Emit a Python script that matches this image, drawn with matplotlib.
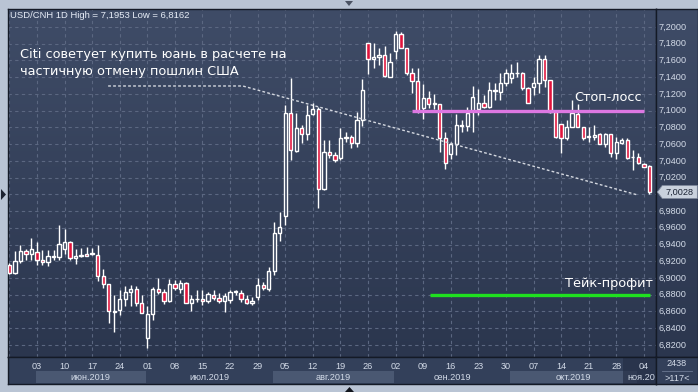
import matplotlib
matplotlib.use('Agg')
import matplotlib.pyplot as plt
import numpy as np
import pandas as pd
from matplotlib.patches import Polygon, Rectangle
from matplotlib.colors import LinearSegmentedColormap

# ---------------- data ----------------
dates = pd.bdate_range('2019-05-27', '2019-11-05')   # 117 daily bars

opens = [6.9155, 6.9056, 6.9200, 6.9328, 6.9292, 6.9316, 6.9220, 6.9192, 6.9250, 6.9248,
         6.9344, 6.9436, 6.9236, 6.9260, 6.9284, 6.9284, 6.9280, 6.9020, 6.8928, 6.8600,
         6.8612, 6.8748, 6.8832, 6.8872, 6.8700, 6.8280, 6.8568, 6.8868, 6.8836, 6.8720,
         6.8925, 6.8873, 6.8937, 6.8698, 6.8750, 6.8745, 6.8730, 6.8797, 6.8757, 6.8730,
         6.8737, 6.8833, 6.8825, 6.8745, 6.8698, 6.8769, 6.8913, 6.8865, 6.9084, 6.9534,
         6.9741, 7.0968, 7.0522, 7.0789, 7.0721, 7.0956, 7.1016, 7.0060, 7.0502, 7.0470,
         7.0430, 7.0670, 7.0680, 7.0618, 7.0888, 7.1805, 7.1613, 7.1637, 7.1660, 7.1406,
         7.1717, 7.1912, 7.1745, 7.1446, 7.1358, 7.1028, 7.1147, 7.1076, 7.1076, 7.0670,
         7.0480, 7.0600, 7.0817, 7.0817, 7.0992, 7.1016, 7.1088, 7.1040, 7.1240, 7.1227,
         7.1335, 7.1386, 7.1446, 7.1446, 7.1267, 7.1279, 7.1327, 7.1613, 7.1366, 7.0988,
         7.0841, 7.0669, 7.0809, 7.0960, 7.0801, 7.0690, 7.0681, 7.0717, 7.0602, 7.0717,
         7.0490, 7.0618, 7.0649, 7.0442, 7.0442, 7.0359, 7.0339]
highs = [6.9180, 6.9320, 6.9400, 6.9350, 6.9484, 6.9436, 6.9340, 6.9330, 6.9330, 6.9628,
         6.9588, 6.9440, 6.9350, 6.9360, 6.9370, 6.9360, 6.9400, 6.9112, 6.8930, 6.8800,
         6.8860, 6.8900, 6.8920, 6.8900, 6.8800, 6.8660, 6.8890, 6.9000, 6.8868, 6.8992,
         6.8976, 6.8976, 6.8956, 6.8797, 6.8857, 6.8857, 6.8837, 6.8857, 6.8817, 6.8817,
         6.8857, 6.8857, 6.8857, 6.8797, 6.8777, 6.8996, 6.8956, 6.9136, 6.9673, 6.9793,
         7.1068, 7.1386, 7.0968, 7.0828, 7.1067, 7.1087, 7.1048, 7.0650, 7.0650, 7.0510,
         7.0790, 7.0750, 7.0710, 7.0988, 7.1374, 7.1805, 7.1805, 7.1745, 7.1770, 7.1685,
         7.1953, 7.1944, 7.1745, 7.1506, 7.1506, 7.1315, 7.1235, 7.1200, 7.1076, 7.0750,
         7.0630, 7.0960, 7.0888, 7.1048, 7.1295, 7.1255, 7.1187, 7.1347, 7.1327, 7.1446,
         7.1494, 7.1558, 7.1586, 7.1466, 7.1287, 7.1406, 7.1665, 7.1665, 7.1366, 7.1008,
         7.0841, 7.0888, 7.1127, 7.1080, 7.0801, 7.0800, 7.0829, 7.0729, 7.0729, 7.0717,
         7.0689, 7.0669, 7.0669, 7.0530, 7.0490, 7.0370, 7.0351]
lows = [6.9050, 6.9044, 6.9180, 6.9210, 6.9220, 6.9152, 6.9150, 6.9140, 6.9210, 6.9220,
        6.9290, 6.9210, 6.9164, 6.9250, 6.9260, 6.9270, 6.8968, 6.8880, 6.8468, 6.8360,
        6.8556, 6.8668, 6.8660, 6.8660, 6.8580, 6.8162, 6.8500, 6.8808, 6.8692, 6.8708,
        6.8857, 6.8817, 6.8698, 6.8610, 6.8717, 6.8678, 6.8698, 6.8737, 6.8705, 6.8598,
        6.8698, 6.8797, 6.8717, 6.8690, 6.8678, 6.8737, 6.8857, 6.8849, 6.9036, 6.9446,
        6.9634, 7.0410, 7.0510, 7.0610, 7.0650, 7.0948, 6.9833, 7.0052, 7.0430, 7.0390,
        7.0410, 7.0630, 7.0550, 7.0560, 7.0817, 7.1440, 7.1506, 7.1540, 7.1400, 7.1400,
        7.1613, 7.1745, 7.1426, 7.1207, 7.0968, 7.0896, 7.1036, 7.1016, 7.0510, 7.0300,
        7.0420, 7.0470, 7.0750, 7.0757, 7.0750, 7.0948, 7.1028, 7.1028, 7.1127, 7.1127,
        7.1300, 7.1335, 7.1406, 7.1247, 7.1096, 7.1187, 7.1207, 7.1287, 7.0976, 7.0669,
        7.0490, 7.0649, 7.0801, 7.0801, 7.0649, 7.0630, 7.0649, 7.0600, 7.0560, 7.0450,
        7.0418, 7.0600, 7.0422, 7.0291, 7.0360, 7.0330, 7.0010]
closes = [6.9060, 6.9208, 6.9328, 6.9292, 6.9348, 6.9216, 6.9196, 6.9264, 6.9260, 6.9408,
          6.9436, 6.9236, 6.9264, 6.9280, 6.9264, 6.9300, 6.9020, 6.8928, 6.8600, 6.8590,
          6.8752, 6.8836, 6.8872, 6.8700, 6.8580, 6.8572, 6.8868, 6.8836, 6.8720, 6.8928,
          6.8880, 6.8937, 6.8698, 6.8750, 6.8746, 6.8730, 6.8805, 6.8765, 6.8730, 6.8785,
          6.8829, 6.8837, 6.8745, 6.8705, 6.8725, 6.8913, 6.8880, 6.9084, 6.9534, 6.9606,
          7.0968, 7.0530, 7.0789, 7.0721, 7.0948, 7.1016, 7.0060, 7.0510, 7.0470, 7.0410,
          7.0670, 7.0680, 7.0618, 7.0888, 7.1247, 7.1613, 7.1637, 7.1660, 7.1414, 7.1578,
          7.1912, 7.1745, 7.1454, 7.1358, 7.1000, 7.1147, 7.1076, 7.1088, 7.0670, 7.0371,
          7.0600, 7.0825, 7.0820, 7.0976, 7.1167, 7.1088, 7.1040, 7.1247, 7.1247, 7.1335,
          7.1446, 7.1446, 7.1450, 7.1267, 7.1096, 7.1335, 7.1613, 7.1366, 7.0988, 7.0689,
          7.0669, 7.0809, 7.0968, 7.0809, 7.0669, 7.0685, 7.0709, 7.0602, 7.0717, 7.0490,
          7.0630, 7.0649, 7.0430, 7.0446, 7.0370, 7.0331, 7.0028]

price_ticks = [6.82, 6.84, 6.86, 6.88, 6.90, 6.92, 6.94, 6.96, 6.98, 7.00,
               7.02, 7.04, 7.06, 7.08, 7.10, 7.12, 7.14, 7.16, 7.18, 7.20]
month_names = {5: 'май', 6: 'июн', 7: 'июл', 8: 'авг', 9: 'сен', 10: 'окт', 11: 'ноя'}

header = 'USD/CNH 1D High = 7,1953 Low = 6,8162'
title_lines = ['Citi советует купить юань в расчете на', 'частичную отмену пошлин США']
trend_x = [17.9, 42.3, 113.9]          # bar index positions of the dotted trend line
trend_y = [7.1295, 7.1295, 6.9992]
stop_loss = 7.10
stop_span = [72.9, 115.0]
take_profit = 6.88
take_span = [76.2, 116.1]
last_price = closes[-1]

# ---------------- layout ----------------
W, H = 698, 392
fig = plt.figure(figsize=(W / 100, H / 100), dpi=100, facecolor='#b9c4d4')

def fr(x0, y0, x1, y1):
    """pixel box (top-left origin) -> figure fraction rect"""
    return [x0 / W, 1 - y1 / H, (x1 - x0) / W, (y1 - y0) / H]

X0, X1, Y0, Y1 = 8, 656, 9, 357
ax = fig.add_axes(fr(X0, Y0, X1, Y1))
axr = fig.add_axes(fr(X1, Y0, W, Y1))
axb = fig.add_axes(fr(X0, Y1, X1, 384))
axc = fig.add_axes(fr(X1, Y1, W, 384))

n = len(dates)
xs = np.arange(n)
xlim = (-0.25, 117.2)
ylim = (6.8056, 7.2215)

bg = LinearSegmentedColormap.from_list('bg', ['#3f4c67', '#2b364e'])
grad = np.linspace(0, 1, 256).reshape(-1, 1)
for a in (ax, axr):
    a.imshow(grad, extent=[0, 1, 0, 1], transform=a.transAxes, cmap=bg,
             aspect='auto', zorder=0, interpolation='bilinear')
for a in (axb, axc):
    a.set_facecolor('#33405a')

for a in (ax, axr, axb, axc):
    a.set_xticks([]); a.set_yticks([])
    for s in a.spines.values():
        s.set_color('#141a26'); s.set_linewidth(1.0)

ax.set_xlim(*xlim); ax.set_ylim(*ylim)
axr.set_xlim(0, 1); axr.set_ylim(*ylim)
axb.set_xlim(*xlim); axb.set_ylim(0, 1)
axc.set_xlim(0, 1); axc.set_ylim(0, 1)

# grid
mondays = [i for i, d in enumerate(dates) if d.weekday() == 0]
grid_kw = dict(color='#5b6781', lw=0.8, linestyle=(0, (3, 3)), zorder=1)
for i in mondays:
    ax.axvline(i, **grid_kw)
for p in price_ticks:
    ax.axhline(p, **grid_kw)

# candles
o = np.array(opens); c = np.array(closes); h = np.array(highs); l = np.array(lows)
up = c >= o
blo = np.minimum(o, c); bhi = np.maximum(o, c)
bh = np.maximum(bhi - blo, 0.0007)
ax.vlines(xs, bhi, h, color='white', lw=1.0, zorder=3)
ax.vlines(xs, l, blo, color='white', lw=1.0, zorder=3)
ax.bar(xs[up], bh[up], bottom=blo[up], width=0.6, facecolor='#34405a',
       edgecolor='white', linewidth=1.0, zorder=4)
ax.bar(xs[~up], bh[~up], bottom=blo[~up], width=0.6, facecolor='#e0143c',
       edgecolor='white', linewidth=1.0, zorder=4)

# annotations
ax.plot(trend_x, trend_y, color='#d4d8e0', lw=1.0, linestyle=(0, (2, 1.6)), zorder=5)
ax.plot(stop_span, [stop_loss, stop_loss], color='#dd78e2', lw=2.4,
        solid_capstyle='butt', zorder=6)
ax.plot(take_span, [take_profit, take_profit], color='#1fe01f', lw=2.4,
        solid_capstyle='butt', zorder=6)

tfont = dict(family='DejaVu Sans', fontsize=9.3, color='white')
fig.text(20 / W, 1 - 57.7 / H, title_lines[0], va='baseline', ha='left', **tfont)
fig.text(20 / W, 1 - 74.5 / H, title_lines[1], va='baseline', ha='left', **tfont)
fig.text(642 / W, 1 - 101 / H, 'Стоп-лосс', va='baseline', ha='right', **tfont)
fig.text(653 / W, 1 - 287 / H, 'Тейк-профит', va='baseline', ha='right', **tfont)
fig.text(10 / W, 1 - 15 / H, header, va='center', ha='left',
         family='Liberation Sans', fontsize=6.8, color='#e6ecf6')

# right price axis (the label under the last-price marker is hidden, as in the original)
lab_kw = dict(family='Liberation Sans', fontsize=6.6, color='#d3dbe8')
for p in price_ticks:
    if abs(p - last_price) < 0.008:
        continue
    axr.text(0.07, p, f'{p:.4f}'.replace('.', ','), va='center', ha='left', **lab_kw)
hh = 0.0078
axr.add_patch(Polygon([(0.03, last_price), (0.15, last_price + hh), (0.985, last_price + hh),
                       (0.985, last_price - hh), (0.15, last_price - hh)],
                      closed=True, facecolor='#c9d1dd', edgecolor='#7d879a', lw=0.6, zorder=5))
axr.text(0.57, last_price, f'{last_price:.4f}'.replace('.', ','), va='center', ha='center',
         zorder=6, family='Liberation Sans', fontsize=6.6, color='#1a2233')

# bottom date axis
months = [d.month for d in dates]
starts = [0] + [i for i in range(1, n) if months[i] != months[i - 1]]
edges = [s - 0.25 for s in starts] + [xlim[1]]
for k, s in enumerate(starts):
    m = months[s]
    if m in (6, 8, 10):
        axb.add_patch(Rectangle((edges[k], 0.04), edges[k + 1] - edges[k], 0.44,
                                facecolor='#4a5872', edgecolor='none', zorder=1))
    if m in (5, 11):
        continue
    cx = (edges[k] + edges[k + 1]) / 2
    axb.text(cx, 0.25, f'{month_names[m]}.{dates[s].year}', ha='center', va='center',
             zorder=3, **lab_kw)
# darker highlight for the last week, with its month label cut by the price axis
axb.add_patch(Rectangle((111.2, 0.0), xlim[1] - 111.2, 1.0, facecolor='#263047',
                        alpha=0.7, edgecolor='none', zorder=2))
axb.text(112.1, 0.25, f'{month_names[11]}.{dates[-1].year}'[:6], ha='left', va='center',
         zorder=3, **lab_kw)
for i in mondays:
    if i > 0:
        axb.text(i, 0.66, dates[i].strftime('%d'), ha='center', va='center', zorder=3, **lab_kw)

axc.text(0.5, 0.76, '2438', ha='center', va='center', **lab_kw)
axc.text(0.5, 0.22, '>117<', ha='center', va='center', **lab_kw)
axc.plot([0.15, 0.85], [0.5, 0.5], color='#6b7791', lw=0.6)

# little UI triangles on the frame
def tri(pts, col):
    fig.patches.append(Polygon([(x / W, 1 - y / H) for x, y in pts], closed=True,
                               transform=fig.transFigure, facecolor=col, edgecolor='none'))
tri([(345, 1), (353, 1), (349, 6)], '#4a5262')
tri([(1, 189), (1, 200), (6, 194.5)], '#1c2230')
tri([(345, 392), (354, 392), (349.5, 387)], '#10141c')

fig.savefig('out.png', dpi=100, facecolor=fig.get_facecolor())
